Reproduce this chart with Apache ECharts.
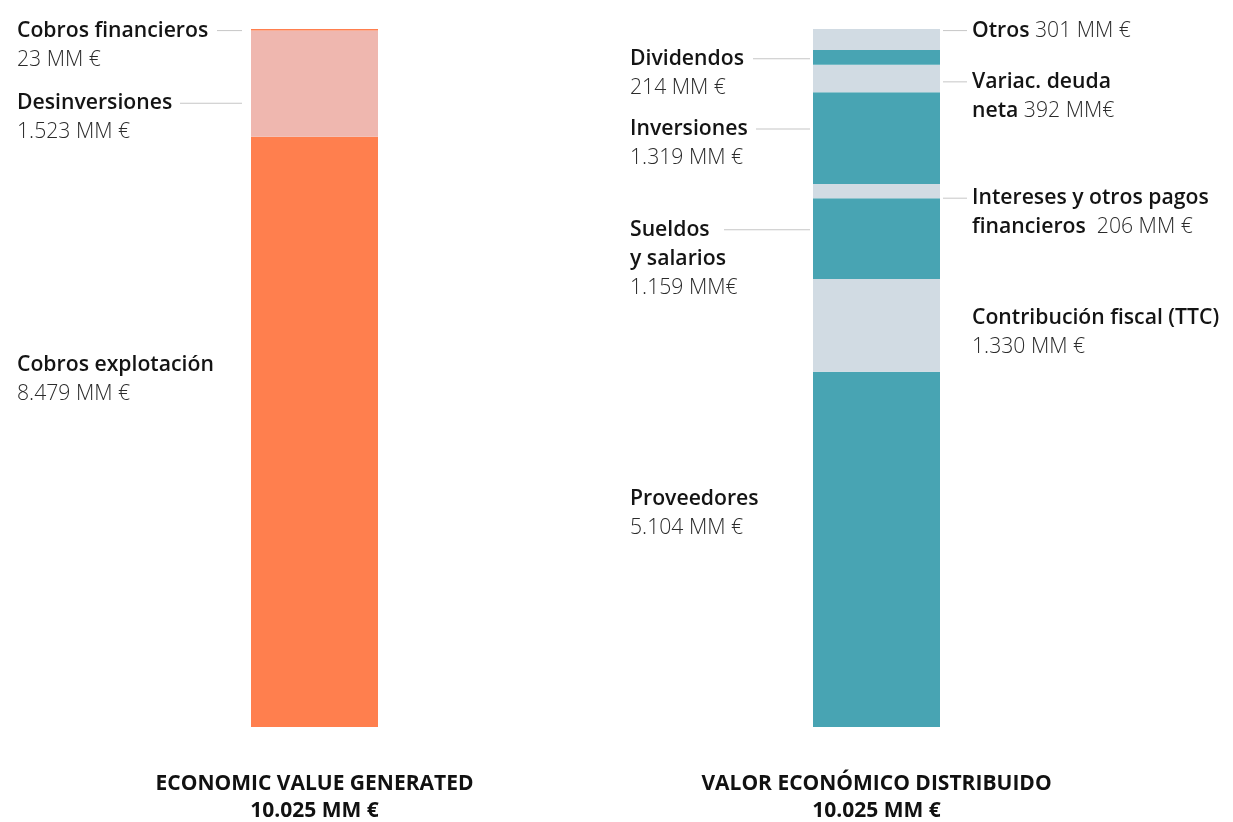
<!DOCTYPE html>
<html>
<head>
<meta charset="utf-8">
<script src="https://cdn.jsdelivr.net/npm/echarts@6/dist/echarts.min.js"></script>
<style>
html,body{margin:0;padding:0;background:#ffffff;}
#chart{width:1233px;height:822px;}
</style>
</head>
<body>
<div id="chart"></div>
<script>
// ---------- DATA ----------
const barTitles = ['ECONOMIC VALUE GENERATED', 'VALOR ECONÓMICO DISTRIBUIDO'];
const totalLabels = ['10.025 MM €', '10.025 MM €'];

const genNames = ['Cobros explotación', 'Desinversiones', 'Cobros financieros'];
const genNameLines = [['Cobros explotación'], ['Desinversiones'], ['Cobros financieros']];
const genValues = [8479, 1523, 23];
const genValueLabels = ['8.479 MM €', '1.523 MM €', '23 MM €'];

const distNames = ['Proveedores', 'Contribución fiscal (TTC)', 'Sueldos y salarios',
  'Intereses y otros pagos financieros', 'Inversiones', 'Variac. deuda neta', 'Dividendos', 'Otros'];
const distNameLines = [['Proveedores'], ['Contribución fiscal (TTC)'], ['Sueldos', 'y salarios'],
  ['Intereses y otros pagos', 'financieros'], ['Inversiones'], ['Variac. deuda', 'neta'], ['Dividendos'], ['Otros']];
const distValues = [5104, 1330, 1159, 206, 1319, 392, 214, 301];
const distValueLabels = ['5.104 MM €', '1.330 MM €', '1.159 MM€', '206 MM €', '1.319 MM €', '392 MM€', '214 MM €', '301 MM €'];

// ---------- STYLE / LAYOUT ----------
const FONT = '"Open Sans", "Noto Sans", sans-serif';
const LINE_COLOR = '#c6c6c6';
const ORANGE = '#FF7F4E', PINK = '#EFB7AF', TEAL = '#48A4B3', LIGHT = '#D1DBE3';
const genColors = [ORANGE, PINK, ORANGE];
const distColors = [TEAL, LIGHT, TEAL, LIGHT, TEAL, LIGHT, TEAL, LIGHT];

const genLayout = [
  { dx: -234, dy: 213.5 },
  { dx: -234, dy: 58.1, width: 225, line: 62 },
  { dx: -234, dy: -12.9, width: 225, line: 25, minH: 2.5 }
];
const distLayout = [
  { dx: -183, dy: 112.5 },
  { dx: 159, dy: 24.7, side: 'right' },
  { dx: -183, dy: 16.8, width: 180, line: 86 },
  { dx: 130, dy: -0.3, side: 'right', line: 24, inline: true, sep: '  ' },
  { dx: -183, dy: 22.3, width: 180, line: 54 },
  { dx: 130, dy: 2.5, side: 'right', line: 24, inline: true, sep: ' ' },
  { dx: -183, dy: -5.6, width: 180, line: 57 },
  { dx: 130, dy: -12.9, side: 'right', line: 24, inline: true, sep: ' ' }
];

const LH = 29;
const baseRich = {
  nm: { fontFamily: FONT, fontWeight: 600, fontSize: 21.2, lineHeight: LH, color: '#141414' },
  val: { fontFamily: FONT, fontWeight: 300, fontSize: 21.2, lineHeight: LH, color: '#2b2b2b' },
  gp: { width: 5, height: 1 },
  ind: { width: 29, height: 1 }
};

function buildText(nameLines, valueText, lay) {
  const lines = nameLines.map(t => '{nm|' + t + '}');
  if (lay.side === 'right') {
    if (lay.inline) lines[lines.length - 1] += '{val|' + lay.sep + valueText + '}';
    else lines.push('{val|' + valueText + '}');
    if (lay.line) {
      lines[0] = '{ln|}{gp|}' + lines[0];
      for (let i = 1; i < lines.length; i++) lines[i] = '{ind|}' + lines[i];
    }
  } else {
    if (lay.line) lines[0] += '{ln|}';
    lines.push('{val|' + valueText + '}');
  }
  return lines.join('\n');
}

function makeSeries(name, data, color, lay, text) {
  const rich = Object.assign({}, baseRich);
  if (lay.line) {
    rich.ln = { width: lay.line, height: 1, backgroundColor: LINE_COLOR, align: lay.side === 'right' ? 'left' : 'right' };
  }
  const label = {
    show: true,
    position: [lay.dx, lay.dy],
    align: 'left',
    verticalAlign: 'top',
    overflow: 'none',
    lineHeight: LH,
    textBorderWidth: 0,
    formatter: function () { return text; },
    rich: rich
  };
  if (lay.width) label.width = lay.width;
  const s = {
    type: 'bar',
    name: name,
    stack: 'total',
    barWidth: 127,
    data: data,
    itemStyle: { color: color },
    label: label,
    emphasis: { disabled: true },
    animation: false
  };
  if (lay.minH) s.barMinHeight = lay.minH;
  return s;
}

const series = [];
genValues.forEach((v, i) => {
  series.push(makeSeries(genNames[i], [v, '-'], genColors[i], genLayout[i],
    buildText(genNameLines[i], genValueLabels[i], genLayout[i])));
});
distValues.forEach((v, i) => {
  series.push(makeSeries(distNames[i], ['-', v], distColors[i], distLayout[i],
    buildText(distNameLines[i], distValueLabels[i], distLayout[i])));
});

const chart = echarts.init(document.getElementById('chart'), null, { renderer: 'canvas' });
chart.setOption({
  animation: false,
  backgroundColor: '#ffffff',
  grid: { left: 33.5, right: 75.5, top: 29, bottom: 95 },
  xAxis: {
    type: 'category',
    data: barTitles,
    axisLine: { show: false },
    axisTick: { show: false },
    splitLine: { show: false },
    axisLabel: {
      interval: 0,
      margin: 44,
      formatter: function (val, idx) { return '{t|' + val + '}\n{t|' + totalLabels[idx] + '}'; },
      rich: { t: { fontFamily: FONT, fontWeight: 700, fontSize: 21, lineHeight: 27, color: '#111111', align: 'center' } }
    }
  },
  yAxis: { type: 'value', min: 0, max: 10025, show: false },
  tooltip: { show: false },
  series: series
});
</script>
</body>
</html>
